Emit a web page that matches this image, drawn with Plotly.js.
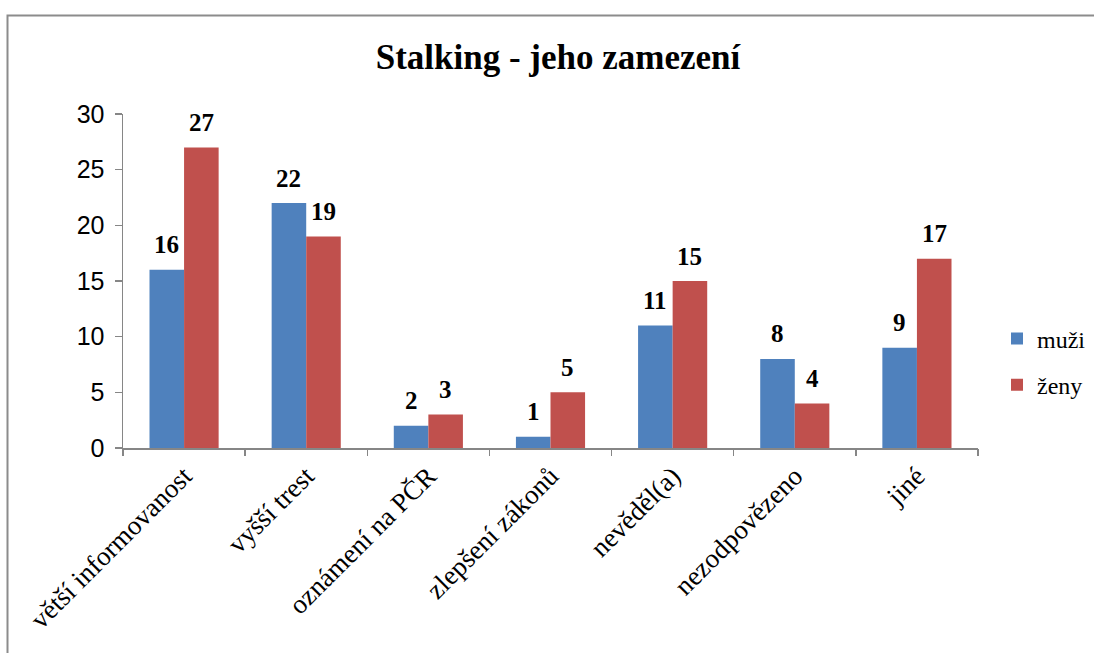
<!DOCTYPE html>
<html><head><meta charset="utf-8">
<script src="https://cdn.plot.ly/plotly-3.0.1.min.js"></script>
<style>html,body{margin:0;padding:0;background:#fff}#chart{width:1094px;height:653px}</style>
</head><body><div id="chart"></div>
<script>
const categories = ["větší informovanost","vyšší trest","oznámení na PČR","zlepšení zákonů","nevěděl(a)","nezodpovězeno","jiné"];
const muzi = [16,22,2,1,11,8,9];
const zeny = [27,19,3,5,15,4,17];
const seriesNames = ["muži","ženy"];
const yTicks = [0,5,10,15,20,25,30];

const bargap = 0.434;
const barW = (1 - bargap) / 2;
const serif = "'Liberation Serif', 'Times New Roman', Times, serif";

const annotations = [];
[muzi, zeny].forEach((vals, s) => {
  vals.forEach((v, i) => {
    annotations.push({
      x: i + (s === 0 ? -barW/2 : barW/2), y: v, xref: 'x', yref: 'y',
      text: '<b>' + v + '</b>', showarrow: false, yanchor: 'middle', yshift: 25,
      font: {family: serif, size: 25, color: '#000'}
    });
  });
});

const idx = categories.map((c,i)=>i);
const traces = [
  {type:'bar', name: seriesNames[0], x: idx, y: muzi, marker:{color:'#4F81BD'}, legendgroup:'a'},
  {type:'bar', name: seriesNames[1], x: idx, y: zeny, marker:{color:'#C0504D'}, legendgroup:'b'},
  {type:'scatter', x:[0], y:[0], xaxis:'x2', yaxis:'y', mode:'markers', marker:{opacity:0}, showlegend:false, hoverinfo:'skip'}
];

const X = v => (v-123)/855, Y = v => (448-v)/334;
const layout = {
  width:1094, height:653,
  margin:{l:123, r:116, t:114, b:205, autoexpand:false},
  paper_bgcolor:'#fff', plot_bgcolor:'#fff',
  barmode:'group', bargap: bargap, bargroupgap: 0,
  title:{text:'<b>Stalking - jeho zamezení</b>', font:{family:serif, size:35, color:'#000'},
         x:558/1094, xanchor:'center', xref:'container', y:1-57/653, yref:'container', yanchor:'middle'},
  xaxis:{type:'linear', range:[-0.5, categories.length-0.5], tickmode:'array',
         tickvals: idx, ticktext: categories, tickangle:-45,
         showline:true, linecolor:'#868686', linewidth:1.5, showgrid:false, zeroline:false,
         ticks:'', tickfont:{family:serif, size:27, color:'#000'}, automargin:false},
  xaxis2:{overlaying:'x', range:[-0.5, categories.length-0.5], tickmode:'array',
          tickvals: idx.map(i=>i-0.5).concat([categories.length-0.5]),
          showticklabels:false, ticks:'outside', ticklen:7, tickcolor:'#868686', tickwidth:1.5,
          showgrid:false, zeroline:false, side:'bottom', anchor:'y', automargin:false},
  yaxis:{range:[0,30], tickvals:yTicks, showline:true, linecolor:'#868686', linewidth:1.5,
         ticks:'outside', ticklen:7, tickcolor:'#868686', tickwidth:1.5, showgrid:false, zeroline:false,
         tickfont:{family:'Liberation Sans', size:25, color:'#000'}, ticklabelstandoff:5, automargin:false},
  legend:{x:X(997), xanchor:'left', y:Y(362), yanchor:'middle', itemwidth:30,
          font:{family:serif, size:24, color:'#000'}, traceorder:'grouped', tracegroupgap:12,
          bgcolor:'rgba(0,0,0,0)'},
  annotations: annotations,
  shapes:[{type:'path', xref:'paper', yref:'paper',
           path:`M ${X(7.5)} ${Y(660)} L ${X(7.5)} ${Y(15.5)} L ${X(1100)} ${Y(15.5)}`,
           line:{color:'#8c8c8c', width:2}, layer:'below'}],
  showlegend:true
};
Plotly.newPlot('chart', traces, layout, {displayModeBar:false, staticPlot:true});
</script></body></html>
